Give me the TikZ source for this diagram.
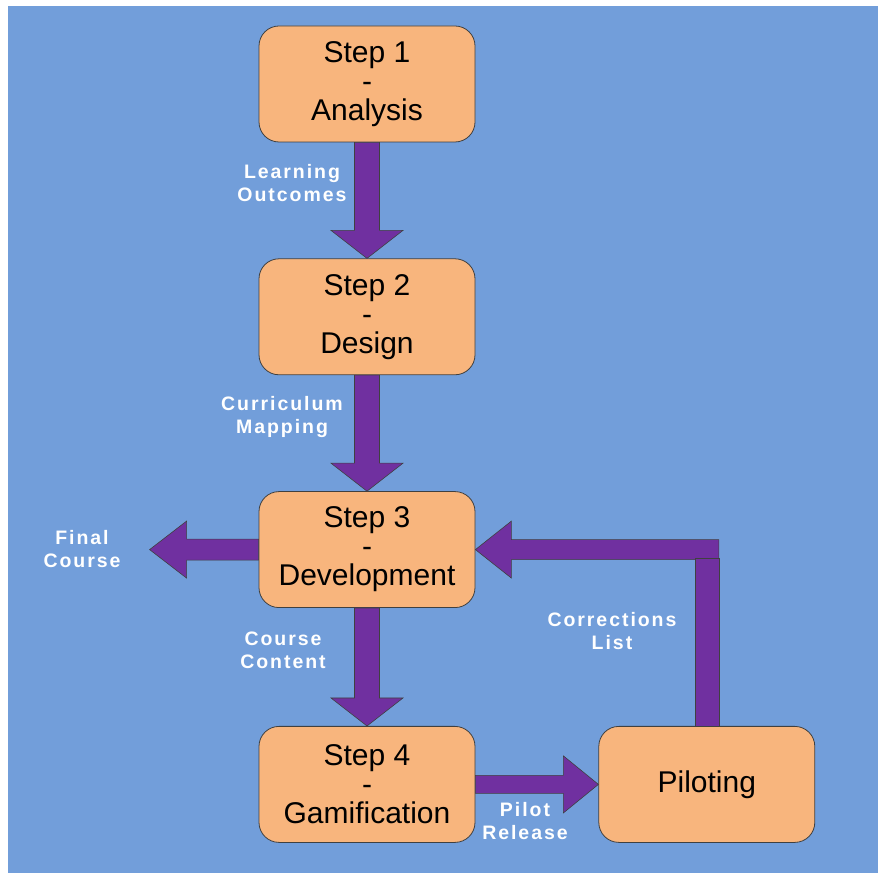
\documentclass[tikz,border=0pt]{standalone}
\usepackage{fontspec}
\setmainfont{Liberation Sans}
\newfontfamily\lblfont[LetterSpace=10]{Liberation Sans}
\usetikzlibrary{calc,positioning}

\definecolor{bgblue}{RGB}{114,158,218}
\definecolor{boxorange}{RGB}{248,181,125}
\definecolor{flowpurple}{RGB}{112,48,160}
\definecolor{edgegray}{RGB}{64,64,64}

% block arrow: from, tip, shaft half width, head length, head half width
\newcommand\flowarrow[5]{%
  \path ($(#2)!#4!(#1)$) coordinate (hb);
  \draw[flow] ($(#1)!#3!90:(#2)$) -- ($(hb)!#3!90:(#2)$) -- ($(hb)!#5!90:(#2)$)
    -- (#2) -- ($(hb)!#5!-90:(#2)$) -- ($(hb)!#3!-90:(#2)$) -- ($(#1)!#3!-90:(#2)$) -- cycle;}

\begin{document}
\begin{tikzpicture}[x=1pt,y=1pt,node distance=116pt,
        step node/.style={rectangle,rounded corners=20pt,draw=edgegray,line width=0.8pt,
          fill=boxorange,minimum width=216pt,minimum height=116pt,align=center,
          font=\fontsize{30}{29}\selectfont},
        flow/.style={draw=edgegray,fill=flowpurple,line width=0.6pt,line join=miter},
        lbl/.style={text=white,align=center,font=\lblfont\bfseries\fontsize{19.5}{23}\selectfont}]
        \useasboundingbox (0,0) rectangle (878,873);
        \fill[bgblue] (8,0) rectangle (878,867);

        \node[step node] (s1) at (367,789) {Step 1\\-\\Analysis};
        \node[step node] (s2) [below=of s1] {Step 2\\-\\Design};
        \node[step node] (s3) [below=of s2] {Step 3\\-\\Development};
        \node[step node] (s4) [below=118pt of s3] {Step 4\\-\\Gamification};
        \node[step node] (pil) [right=123pt of s4] {Piloting};
        \coordinate[left=109pt of s3.west] (fc);
        \coordinate (cr) at ($(s3.east -| pil.north)+(12,0)$);

        \flowarrow{s1.south}{s2.north}{12.5pt}{28pt}{36pt}
        \flowarrow{s2.south}{s3.north}{12.5pt}{28pt}{36pt}
        \flowarrow{s3.south}{s4.north}{12.5pt}{28pt}{36pt}
        \flowarrow{s3.west}{fc}{10.5pt}{37pt}{28.5pt}
        \flowarrow{cr}{s3.east}{10pt}{36pt}{28.5pt}
        \draw[flow] ($(pil.north)+(-12,0)$) rectangle ($(s3.east -| pil.north)+(12,-9)$);
        \flowarrow{s4.east}{pil.west}{9pt}{35pt}{28.5pt}

        \node[lbl] (l1) at (292,690) {Learning\\Outcomes};
        \node[lbl] (l2) at (282,456) {Curriculum\\Mapping};
        \node[lbl] (l3) at (283,223) {Course\\Content};
        \node[lbl] (l4) at (82,324) {Final\\Course};
        \node[lbl] (l5) at (612,242) {Corrections\\List};
        \node[lbl] (l6) at (525,52) {Pilot\\Release};
\end{tikzpicture}
\end{document}
